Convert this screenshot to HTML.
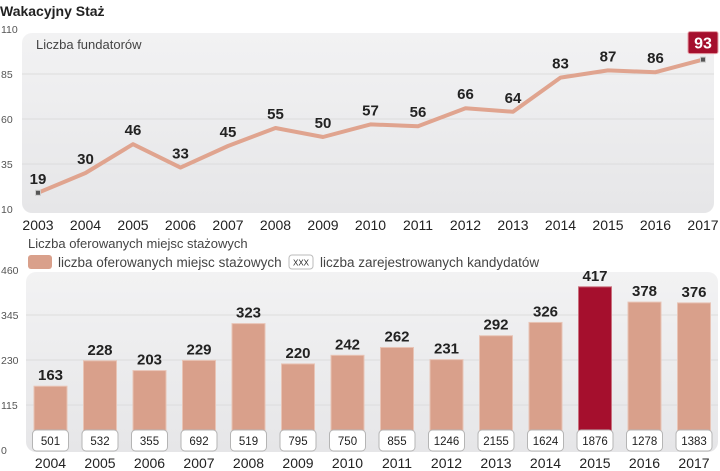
<!DOCTYPE html>
<html><head><meta charset="utf-8"><style>
body{margin:0;background:#fff;width:720px;height:471px;overflow:hidden;font-family:"Liberation Sans",sans-serif}
svg{display:block}
.tick{font-size:10.5px;fill:#555}
.yr{font-size:14px;fill:#222}
.val{font-size:15px;font-weight:bold;fill:#222}
.box{font-size:11.5px;fill:#222}
</style></head><body>
<svg width="720" height="471">
<defs>
<linearGradient id="bg" x1="0" y1="0" x2="0" y2="1"><stop offset="0" stop-color="#f2f2f3"/><stop offset="1" stop-color="#e6e6e8"/></linearGradient>
</defs>
<text x="0" y="16" font-size="14" font-weight="bold" fill="#222">Wakacyjny Staż</text>
<rect x="22" y="33" width="692" height="180" rx="10" fill="url(#bg)"/>
<text x="36" y="49" font-size="13" fill="#444">Liczba fundatorów</text>
<g id="lineg"></g>
<rect x="26" y="272" width="692" height="180" rx="10" fill="url(#bg)"/>
<text x="28" y="248" font-size="13" fill="#444">Liczba oferowanych miejsc stażowych</text>
<rect x="28" y="255" width="24" height="14" rx="3" fill="#d9a08b"/>
<text x="58" y="267" font-size="13.5" fill="#444">liczba oferowanych miejsc stażowych</text>
<rect x="289" y="255" width="24" height="14" rx="3" fill="#fff" stroke="#bbb"/>
<text x="301" y="265.5" font-size="8" text-anchor="middle" fill="#222">XXX</text>
<text x="320" y="267" font-size="13.5" fill="#444">liczba zarejestrowanych kandydatów</text>
<g id="barg"></g>
</svg>
<script>
const lineYears=[2003,2004,2005,2006,2007,2008,2009,2010,2011,2012,2013,2014,2015,2016,2017];
const lineValues=[19,30,46,33,45,55,50,57,56,66,64,83,87,86,93];
const lineTicks=[10,35,60,85,110];
const barYears=[2004,2005,2006,2007,2008,2009,2010,2011,2012,2013,2014,2015,2016,2017];
const barValues=[163,228,203,229,323,220,242,262,231,292,326,417,378,376];
const candidates=[501,532,355,692,519,795,750,855,1246,2155,1624,1876,1278,1383];
const barTicks=[0,115,230,345,460];
const NS="http://www.w3.org/2000/svg";
function mk(p,t,a,txt){const e=document.createElementNS(NS,t);for(const k in a)e.setAttribute(k,a[k]);if(txt!==undefined)e.textContent=txt;p.appendChild(e);return e;}
const lg=document.getElementById('lineg');
const lx=i=>38+i*(665/(lineYears.length-1));
const ly=v=>209-(v-10)*1.8;
lineTicks.forEach(t=>{
 if(t>10&&t<110){const g=mk(lg,'line',{x1:22,x2:714,y1:ly(t),y2:ly(t),stroke:'#dcdcdc','stroke-width':1});
 
 }
 const e=mk(lg,'text',{x:1,y:ly(t)+4,class:'tick'},t);
 
 
});
const pl=mk(lg,'polyline',{points:lineValues.map((v,i)=>lx(i)+','+ly(v)).join(' '),fill:'none',stroke:'#e0a48f','stroke-width':4,'stroke-linejoin':'round'});


lineValues.forEach((v,i)=>{
 const n=lineValues.length-1;
 if(i===0||i===n){const d=mk(lg,'rect',{x:lx(i)-2.5,y:ly(v)-2.5,width:5,height:5,fill:'#555',stroke:'#ccc'});
 
 }
 if(i===n){const r=mk(lg,'rect',{x:lx(i)-15,y:ly(v)-28,width:30,height:22,rx:2,fill:'#a50f2d',stroke:'#e6a0a8'});
 
 
 const t=mk(lg,'text',{x:lx(i),y:ly(v)-11,'text-anchor':'middle',class:'val',style:'fill:#fff;font-size:16px'},v);
 
 }
 else{const t=mk(lg,'text',{x:lx(i),y:ly(v)-9,'text-anchor':'middle',class:'val'},v);
 
 }
 const y=mk(lg,'text',{x:lx(i),y:230,'text-anchor':'middle',class:'yr'},lineYears[i]);
 
 
});
const bg=document.getElementById('barg');
const bx=i=>50.5+i*49.5;
const by=v=>450-v*(180/460);
barTicks.forEach(t=>{
 if(t>0&&t<460){const g=mk(bg,'line',{x1:26,x2:718,y1:by(t),y2:by(t),stroke:'#dcdcdc','stroke-width':1});
 
 }
 const e=mk(bg,'text',{x:1,y:by(t)+4,class:'tick'},t);
 
 
});
barValues.forEach((v,i)=>{
 const hi=barYears[i]===2015;
 const b=mk(bg,'rect',{x:bx(i)-16.5,y:by(v),width:33,height:450-by(v),fill:hi?'#a50f2d':'#d9a08b',stroke:hi?'#c9707e':'#e8c4b6','stroke-width':1});
 
 
 const t=mk(bg,'text',{x:bx(i),y:by(v)-6,'text-anchor':'middle',class:'val'},v);
 
 
 const r=mk(bg,'rect',{x:bx(i)-18,y:430,width:36,height:21,rx:4,fill:'#fff',stroke:'#b5b5b5'});
 
 
 const c=mk(bg,'text',{x:bx(i),y:445,'text-anchor':'middle',class:'box'},candidates[i]);
 
 
 const y=mk(bg,'text',{x:bx(i),y:468,'text-anchor':'middle',class:'yr'},barYears[i]);
 
 
});
</script>
</body></html>
